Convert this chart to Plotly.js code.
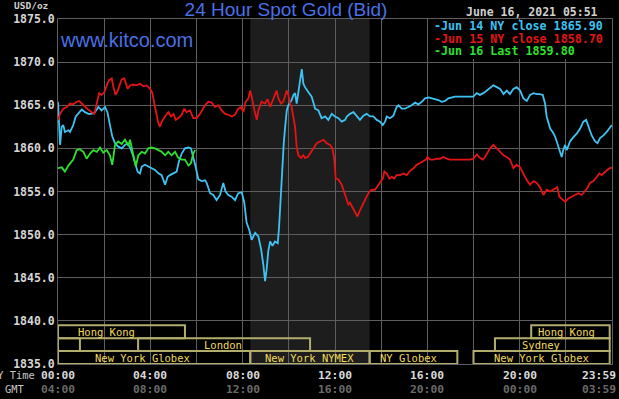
<!DOCTYPE html>
<html>
<head>
<meta charset="utf-8">
<script src="https://cdn.plot.ly/plotly-3.0.1.min.js"></script>
<style>html,body{margin:0;padding:0;background:#000;}#chart{width:619px;height:399px;}</style>
</head>
<body>
<div id="chart"></div>
<script>
// ---- data (hours in New York time, price USD/oz) ----
const jun14Hours = [0.00,0.09,0.16,0.23,0.30,0.45,0.52,0.66,0.77,0.88,1.03,1.17,1.31,1.46,1.60,1.75,1.89,2.04,2.15,2.25,2.35,2.47,2.61,2.76,2.90,3.02,3.12,3.22,3.34,3.45,3.55,3.63,3.77,3.91,4.06,4.20,4.35,4.49,4.64,4.75,4.85,5.00,5.14,5.24,5.36,5.50,5.65,5.76,5.86,5.96,6.08,6.23,6.37,6.44,6.59,6.73,6.87,7.02,7.16,7.26,7.38,7.52,7.67,7.81,7.96,8.07,8.17,8.28,8.39,8.54,8.68,8.80,8.90,8.97,9.04,9.11,9.19,9.29,9.40,9.52,9.58,9.66,9.72,9.78,9.84,9.91,9.98,10.12,10.20,10.27,10.34,10.41,10.49,10.56,10.63,10.70,10.85,10.99,11.14,11.28,11.42,11.57,11.71,11.86,12.00,12.15,12.29,12.44,12.51,12.65,12.80,12.94,13.08,13.23,13.37,13.52,13.66,13.81,13.95,14.07,14.17,14.24,14.38,14.53,14.67,14.75,14.89,15.03,15.18,15.32,15.47,15.61,15.76,15.90,16.05,16.19,16.33,16.48,16.62,16.77,16.91,17.06,17.20,17.42,17.63,17.85,17.99,18.14,18.28,18.43,18.57,18.72,18.86,19.01,19.15,19.30,19.44,19.58,19.73,19.87,20.02,20.16,20.31,20.45,20.60,20.74,20.88,21.00,21.10,21.17,21.24,21.32,21.43,21.53,21.63,21.75,21.82,21.89,21.97,22.04,22.11,22.18,22.33,22.47,22.62,22.76,22.88,22.98,23.12,23.27,23.37,23.48,23.63,23.77,23.92,23.99];
const jun14Price = [1865.4,1860.4,1862.5,1862.7,1861.9,1862.1,1861.9,1862.7,1863.7,1864.0,1864.5,1864.2,1864.0,1864.0,1864.2,1864.8,1864.4,1864.8,1864.1,1862.7,1861.4,1860.6,1860.2,1860.0,1860.4,1860.6,1860.1,1859.4,1858.3,1857.3,1857.1,1857.9,1858.1,1857.9,1857.7,1857.5,1857.1,1856.9,1855.8,1856.7,1856.9,1857.1,1857.3,1858.5,1859.4,1860.0,1860.1,1860.0,1859.0,1857.9,1856.4,1856.2,1856.3,1856.0,1854.8,1854.6,1854.0,1854.6,1856.0,1855.0,1854.6,1854.4,1854.0,1854.8,1854.9,1853.7,1851.4,1850.6,1849.4,1850.2,1849.8,1848.3,1846.4,1844.6,1846.0,1848.1,1849.2,1848.7,1849.2,1849.0,1851.0,1854.8,1858.7,1860.6,1862.5,1864.4,1865.0,1865.6,1866.2,1866.4,1865.2,1866.4,1867.9,1869.2,1867.5,1867.1,1866.5,1866.0,1864.6,1864.4,1863.5,1863.7,1863.3,1864.0,1863.7,1863.5,1863.1,1863.3,1863.7,1864.0,1864.2,1863.7,1863.3,1863.8,1864.0,1863.7,1863.7,1863.3,1863.1,1862.7,1863.1,1863.7,1863.5,1863.8,1864.8,1865.0,1864.6,1864.6,1864.8,1865.0,1865.3,1865.1,1865.4,1865.8,1865.9,1865.8,1865.7,1865.6,1865.4,1865.5,1865.8,1865.9,1866.0,1866.0,1866.0,1866.0,1866.0,1866.4,1866.2,1866.4,1866.7,1867.0,1867.3,1867.1,1866.9,1866.3,1866.7,1866.3,1866.9,1867.1,1866.7,1865.8,1865.5,1866.2,1866.4,1866.3,1866.3,1866.2,1865.2,1863.7,1863.1,1862.3,1861.9,1861.4,1860.6,1859.6,1859.0,1859.8,1860.4,1859.8,1860.2,1860.8,1861.3,1861.7,1862.3,1863.1,1863.3,1862.5,1861.5,1860.8,1860.6,1861.2,1861.5,1861.9,1862.5,1862.7];

const jun15Hours = [0.00,0.09,0.23,0.38,0.52,0.66,0.81,0.91,1.03,1.17,1.31,1.46,1.57,1.68,1.78,1.89,2.01,2.11,2.21,2.33,2.40,2.50,2.59,2.69,2.76,2.87,2.93,3.02,3.12,3.26,3.41,3.55,3.70,3.84,3.99,4.09,4.17,4.27,4.35,4.42,4.49,4.64,4.78,4.90,5.00,5.10,5.21,5.36,5.47,5.57,5.72,5.86,6.01,6.15,6.30,6.37,6.51,6.66,6.80,6.95,7.09,7.24,7.38,7.52,7.67,7.81,7.93,8.03,8.13,8.25,8.32,8.39,8.51,8.61,8.68,8.82,8.97,9.08,9.19,9.29,9.40,9.47,9.55,9.66,9.76,9.84,9.91,9.98,10.05,10.12,10.20,10.27,10.34,10.41,10.53,10.63,10.70,10.82,10.92,11.06,11.21,11.35,11.50,11.64,11.79,11.89,11.97,12.03,12.15,12.29,12.43,12.51,12.58,12.65,12.77,12.87,12.97,13.06,13.16,13.26,13.37,13.49,13.59,13.73,13.84,13.95,14.07,14.14,14.24,14.36,14.46,14.56,14.67,14.82,14.96,15.11,15.25,15.40,15.54,15.68,15.83,15.94,16.00,16.12,16.26,16.41,16.55,16.69,16.84,16.98,17.20,17.42,17.63,17.85,17.99,18.14,18.28,18.40,18.50,18.64,18.72,18.86,19.01,19.15,19.30,19.44,19.58,19.73,19.87,20.02,20.16,20.31,20.45,20.60,20.74,20.88,21.03,21.17,21.32,21.46,21.63,21.72,21.82,21.97,22.11,22.26,22.40,22.54,22.69,22.83,22.93,23.05,23.19,23.34,23.45,23.55,23.70,23.84,23.99];
const jun15Price = [1863.3,1864.0,1864.6,1864.8,1865.2,1865.1,1865.4,1865.5,1865.2,1864.8,1864.5,1864.2,1864.0,1865.2,1866.4,1866.2,1866.5,1867.3,1867.9,1868.1,1867.1,1866.2,1866.7,1867.5,1868.0,1868.1,1867.7,1866.9,1867.3,1867.4,1867.3,1867.5,1867.2,1867.3,1866.9,1866.4,1865.2,1864.0,1862.9,1862.5,1863.1,1863.7,1864.2,1863.7,1864.0,1863.3,1863.5,1863.9,1864.6,1864.2,1864.4,1863.5,1863.5,1864.0,1864.8,1865.0,1865.4,1865.3,1864.8,1865.0,1864.4,1864.0,1863.9,1863.7,1863.9,1864.6,1864.8,1864.2,1865.4,1865.8,1866.7,1866.0,1864.4,1863.3,1864.4,1865.4,1865.2,1865.7,1864.8,1865.4,1866.2,1866.7,1865.8,1865.2,1865.4,1866.0,1866.7,1866.2,1865.2,1864.8,1863.7,1862.5,1860.2,1859.2,1858.9,1859.2,1858.9,1859.0,1859.4,1860.0,1860.6,1860.8,1861.0,1860.6,1860.4,1860.0,1858.7,1856.5,1856.4,1855.8,1854.6,1854.0,1853.5,1853.7,1853.1,1852.7,1852.1,1852.7,1853.3,1853.9,1854.4,1855.0,1855.2,1855.2,1855.6,1856.0,1856.5,1857.3,1857.1,1856.5,1856.7,1856.5,1856.9,1856.9,1857.1,1856.9,1857.4,1857.7,1858.1,1858.3,1858.5,1858.7,1859.0,1858.7,1858.7,1858.8,1858.8,1859.0,1858.8,1858.7,1858.7,1858.7,1858.7,1858.7,1858.8,1859.3,1858.9,1858.7,1859.0,1859.6,1860.0,1860.4,1860.0,1859.6,1859.2,1859.0,1858.7,1857.7,1858.1,1857.8,1857.1,1856.3,1855.8,1856.2,1856.0,1855.5,1854.6,1855.2,1855.0,1855.2,1855.5,1854.4,1854.2,1853.8,1854.2,1854.4,1854.6,1854.8,1854.6,1855.0,1855.4,1856.0,1856.2,1856.7,1857.1,1856.9,1857.3,1857.6,1857.8];

const jun16Hours = [0.00,0.16,0.30,0.45,0.66,0.81,0.95,1.10,1.24,1.39,1.53,1.68,1.82,1.96,2.11,2.25,2.35,2.47,2.61,2.76,2.90,3.05,3.12,3.26,3.37,3.48,3.63,3.77,3.91,4.06,4.20,4.35,4.49,4.64,4.78,4.92,5.07,5.21,5.36,5.50,5.65,5.76,5.86,5.94];
const jun16Price = [1857.7,1857.8,1857.3,1858.0,1858.7,1859.8,1859.9,1859.6,1858.8,1859.4,1859.8,1859.6,1860.1,1859.5,1859.8,1859.2,1858.1,1860.4,1860.8,1860.5,1861.0,1860.3,1861.0,1859.0,1857.9,1859.2,1859.6,1859.4,1860.0,1860.1,1860.0,1859.8,1859.6,1859.2,1859.6,1859.2,1859.6,1858.9,1858.7,1858.7,1858.0,1858.3,1859.4,1859.8];

const seriesNames = ['Jun 14 NY close 1865.90', 'Jun 15 NY close 1858.70', 'Jun 16 Last 1859.80'];
const seriesColors = ['#3ec3f2', '#e41414', '#2fe02f'];

const yTickValues = [1835, 1840, 1845, 1850, 1855, 1860, 1865, 1870, 1875];
const xTickHours = [0, 4, 8, 12, 16, 20, 24];
const nyTimeLabels = ['00:00', '04:00', '08:00', '12:00', '16:00', '20:00', '23:59'];
const gmtLabels = ['04:00', '08:00', '12:00', '16:00', '20:00', '00:00', '03:59'];

// trading sessions (hours NY time); row 1 = top band
const sessionNames = ['Hong Kong', 'Hong Kong', '', 'London', 'Sydney', 'New York Globex', 'New York NYMEX', 'NY Globex', 'New York Globex'];
const sessionStart = [0, 20.5, 0, 3.47, 18.93, 0, 8.33, 13.5, 18.0];
const sessionEnd = [5.5, 23.9, 0.95, 10.92, 23.9, 8.33, 13.5, 17.3, 23.9];
const sessionRow = [1, 1, 2, 2, 2, 3, 3, 3, 3];
const sessionLabelHour = [2.12, 22.01, null, 7.15, 20.93, 3.64, 10.9, 15.17, 20.93];

const chartTitle = '24 Hour Spot Gold (Bid)';
const stampText = 'June 16, 2021 05:51';

// ---- build ----
const mono = 'DejaVu Sans Mono, Liberation Mono, monospace';
const gridColor = '#5e5e5e';
const L = 58, R = 612, T = 19, B = 364;
const px2paperX = p => (p - L) / (R - L);
const px2paperY = p => (B - p) / (B - T);

const traces = [
  {x: jun14Hours, y: jun14Price, name: seriesNames[0], color: seriesColors[0]},
  {x: jun15Hours, y: jun15Price, name: seriesNames[1], color: seriesColors[1]},
  {x: jun16Hours, y: jun16Price, name: seriesNames[2], color: seriesColors[2]}
].map(s => ({x: s.x, y: s.y, name: s.name, type: 'scatter', mode: 'lines',
  line: {color: s.color, width: 1.8}, hoverinfo: 'skip', showlegend: false}));

const rowTop = {1: 1839.5, 2: 1838.0, 3: 1836.5};
const rowH = 1.5;
const shapes = [];
// NYMEX session shading
const nyIdx = sessionNames.indexOf('New York NYMEX');
shapes.push({type: 'rect', xref: 'x', yref: 'y', x0: sessionStart[nyIdx], x1: sessionEnd[nyIdx],
  y0: 1835, y1: 1875, fillcolor: '#1d1d1d', line: {width: 0}, layer: 'below'});
// black backing behind the legend text
shapes.push({type: 'rect', xref: 'paper', yref: 'paper', x0: px2paperX(431), x1: px2paperX(606),
  y0: px2paperY(59), y1: px2paperY(20), fillcolor: '#000000', line: {width: 0}, layer: 'above'});
const annotations = [];
sessionNames.forEach((n, i) => {
  const top = rowTop[sessionRow[i]];
  shapes.push({type: 'rect', xref: 'x', yref: 'y', x0: sessionStart[i], x1: sessionEnd[i],
    y0: top - rowH, y1: top, line: {color: '#b3ad6c', width: 2}, fillcolor: 'rgba(0,0,0,0)', layer: 'above'});
  if (n) annotations.push({xref: 'x', yref: 'y', x: sessionLabelHour[i], y: top - rowH / 2,
    text: n, showarrow: false, xanchor: 'center', yanchor: 'middle',
    font: {family: mono, size: 10.5, color: '#f2dc5a'}});
});

xTickHours.forEach((h, i) => {
  const shift = (i === xTickHours.length - 1) ? -13 : 0;
  annotations.push({xref: 'x', yref: 'paper', x: h, y: px2paperY(375), xshift: shift, text: nyTimeLabels[i],
    showarrow: false, xanchor: 'center', yanchor: 'middle', font: {family: mono, size: 11.3, color: '#dadada', weight: 'bold'}});
  annotations.push({xref: 'x', yref: 'paper', x: h, y: px2paperY(389), xshift: shift, text: gmtLabels[i],
    showarrow: false, xanchor: 'center', yanchor: 'middle', font: {family: mono, size: 11.3, color: '#6a6a6a', weight: 'bold'}});
});
annotations.push({xref: 'paper', yref: 'paper', x: px2paperX(37), y: px2paperY(375), text: 'NY Time',
  showarrow: false, xanchor: 'right', yanchor: 'middle', font: {family: mono, size: 10.4, color: '#c8c8c8'}});
annotations.push({xref: 'paper', yref: 'paper', x: px2paperX(3), y: px2paperY(389), text: 'GMT',
  showarrow: false, xanchor: 'left', yanchor: 'middle', font: {family: mono, size: 10.4, color: '#c8c8c8'}});

annotations.push({xref: 'paper', yref: 'paper', x: px2paperX(12), y: px2paperY(5.5), text: 'USD/oz',
  showarrow: false, xanchor: 'left', yanchor: 'middle', font: {family: mono, size: 9.5, color: '#d0d0d0', weight: 'bold'}});
annotations.push({xref: 'paper', yref: 'paper', x: px2paperX(126.5), y: px2paperY(40), text: 'www.kitco.com',
  showarrow: false, xanchor: 'center', yanchor: 'middle', font: {family: 'Liberation Sans, Arial, sans-serif', size: 20, color: '#4a70e6'}});
annotations.push({xref: 'paper', yref: 'paper', x: px2paperX(600), y: px2paperY(12.5), text: stampText,
  showarrow: false, xanchor: 'right', yanchor: 'middle', font: {family: mono, size: 11.5, color: '#d0d0d0', weight: 'bold'}});

const legendY = [25.7, 38.5, 51.5];
seriesNames.forEach((n, i) => {
  annotations.push({xref: 'paper', yref: 'paper', x: px2paperX(433), y: px2paperY(legendY[i]), text: '-' + n,
    showarrow: false, xanchor: 'left', yanchor: 'middle', borderpad: 0,
    font: {family: mono, size: 11.7, color: seriesColors[i], weight: 'bold'}});
});

const layout = {
  width: 619, height: 399,
  margin: {l: L, r: 619 - R, t: T, b: 399 - B, pad: 0},
  paper_bgcolor: '#000000', plot_bgcolor: '#000000',
  title: {text: chartTitle, x: 286 / 619, xanchor: 'center', xref: 'container', y: 1 - 9.5 / 399, yanchor: 'middle', yref: 'container',
    font: {family: 'Liberation Sans, Arial, sans-serif', size: 19, color: '#4a70e6'}},
  xaxis: {range: [0, 24], tickvals: [0,2,4,6,8,10,12,14,16,18,20,22,24], showticklabels: false, ticks: '',
    showgrid: true, gridcolor: gridColor, gridwidth: 1, zeroline: false,
    showline: true, mirror: true, linecolor: gridColor, linewidth: 1, fixedrange: true},
  yaxis: {range: [1835, 1875], tickvals: yTickValues, tickformat: '.1f', ticks: '',
    tickfont: {family: mono, size: 11.5, color: '#d6d6d6', weight: 'bold'},
    showgrid: true, gridcolor: gridColor, gridwidth: 1, zeroline: false,
    showline: true, mirror: true, linecolor: gridColor, linewidth: 1, fixedrange: true},
  shapes: shapes,
  annotations: annotations,
  showlegend: false
};

Plotly.newPlot('chart', traces, layout, {staticPlot: true, displayModeBar: false});
</script>
</body>
</html>
